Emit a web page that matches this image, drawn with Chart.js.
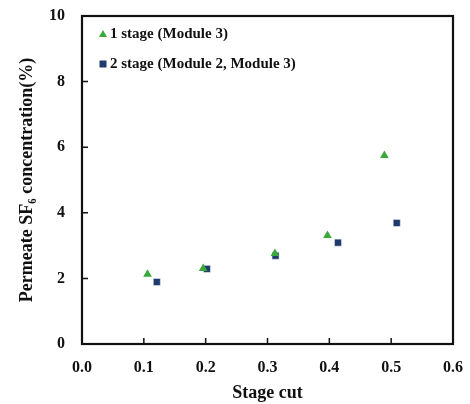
<!DOCTYPE html>
<html lang="en">
  <head>
    <meta charset="UTF-8" />
    <title>Permeate SF6 concentration vs stage cut</title>
    <script src="https://cdn.jsdelivr.net/npm/chart.js"></script>
    <style>
      body {
        margin: 0;
        padding: 0;
        background: #fff;
      }
      #wrap {
        width: 470px;
        height: 404px;
      }
    </style>
  </head>
  <body>
    <div id="wrap"><canvas id="chart" width="470" height="404"></canvas></div>

    <script>
      // data
      const stage1Cut = [0.106, 0.196, 0.312, 0.397, 0.489];
      const stage1Conc = [2.13, 2.3, 2.76, 3.31, 5.75];
      const stage2Cut = [0.121, 0.202, 0.313, 0.414, 0.509];
      const stage2Conc = [1.89, 2.29, 2.69, 3.09, 3.69];
      const seriesLabels = ["1 stage (Module 3)", "2 stage (Module 2, Module 3)"];
      const xTicks = [0, 0.1, 0.2, 0.3, 0.4, 0.5, 0.6];
      const yTicks = [0, 2, 4, 6, 8, 10];

      const serif = "'Liberation Serif', 'Times New Roman', serif";
      const toPoints = (xs, ys) => xs.map((x, i) => ({ x: x, y: ys[i] }));

      // box around the plot + inward tick marks
      const frame = {
        id: "frame",
        afterDraw(chart) {
          const ctx = chart.ctx;
          const a = chart.chartArea;
          const xs = chart.scales.x;
          const ys = chart.scales.y;
          ctx.save();
          ctx.strokeStyle = "#111";
          ctx.lineWidth = 2.2;
          ctx.strokeRect(a.left, a.top, a.right - a.left, a.bottom - a.top);
          ctx.beginPath();
          xTicks.forEach((v) => {
            const px = xs.getPixelForValue(v);
            ctx.moveTo(px, a.bottom);
            ctx.lineTo(px, a.bottom - 6);
          });
          yTicks.forEach((v) => {
            const py = ys.getPixelForValue(v);
            ctx.moveTo(a.left, py);
            ctx.lineTo(a.left + 6, py);
          });
          ctx.lineWidth = 1.5;
          ctx.stroke();
          ctx.restore();
        },
      };

      // legend drawn inside the plot, top left
      const innerLegend = {
        id: "innerLegend",
        afterDraw(chart) {
          const ctx = chart.ctx;
          const a = chart.chartArea;
          ctx.save();
          ctx.font = "bold 15px " + serif;
          ctx.textBaseline = "middle";
          chart.data.datasets.forEach((ds, i) => {
            const x = a.left + 21;
            const y = a.top + 18 + i * 30;
            ctx.fillStyle = ds.backgroundColor;
            ctx.beginPath();
            if (ds.pointStyle === "triangle") {
              ctx.moveTo(x, y - 4);
              ctx.lineTo(x + 4, y + 3);
              ctx.lineTo(x - 4, y + 3);
              ctx.closePath();
              ctx.fill();
            } else {
              ctx.fillRect(x - 3.5, y - 3.5, 7, 7);
            }
            ctx.fillStyle = "#111";
            ctx.fillText(ds.label, x + 7, y);
          });
          ctx.restore();
        },
      };

      new Chart(document.getElementById("chart"), {
        type: "scatter",
        data: {
          datasets: [
            {
              label: seriesLabels[0],
              data: toPoints(stage1Cut, stage1Conc),
              pointStyle: "triangle",
              backgroundColor: "#3ba83b",
              borderColor: "#3ba83b",
              pointRadius: 5,
              borderWidth: 0,
            },
            {
              label: seriesLabels[1],
              data: toPoints(stage2Cut, stage2Conc),
              pointStyle: "rect",
              backgroundColor: "#1f3b6e",
              borderColor: "#e8ecf4",
              pointRadius: 5,
              borderWidth: 0.6,
            },
          ],
        },
        options: {
          responsive: false,
          animation: false,
          layout: { padding: { top: 16, right: 17, left: 0, bottom: 0 } },
          plugins: {
            legend: { display: false },
            tooltip: { enabled: false },
          },
          scales: {
            x: {
              type: "linear",
              min: 0,
              max: 0.6,
              afterBuildTicks: (s) => {
                s.ticks = xTicks.map((v) => ({ value: v }));
              },
              afterFit: (s) => {
                s.height = 60;
                s.paddingLeft = 0;
                s.paddingRight = 0;
              },
              grid: { display: false },
              border: { display: false },
              ticks: {
                color: "#111",
                padding: 6,
                font: { family: serif, size: 16, weight: "bold" },
                callback: (v) => v.toFixed(1),
              },
              title: {
                display: true,
                text: "Stage cut",
                color: "#111",
                padding: { top: 2, bottom: 0 },
                font: { family: serif, size: 18, weight: "bold" },
              },
            },
            y: {
              min: 0,
              max: 10,
              afterBuildTicks: (s) => {
                s.ticks = yTicks.map((v) => ({ value: v }));
              },
              afterFit: (s) => {
                s.width = 82;
                s.paddingTop = 0;
                s.paddingBottom = 0;
              },
              grid: { display: false },
              border: { display: false },
              ticks: {
                color: "#111",
                padding: 9,
                font: { family: serif, size: 16, weight: "bold" },
              },
              title: {
                display: true,
                text: "Permeate SF\u2086 concentration(%)",
                color: "#111",
                padding: { top: 17, bottom: 0 },
                font: { family: serif, size: 18, weight: "bold" },
              },
            },
          },
        },
        plugins: [frame, innerLegend],
      });
    </script>
  </body>
</html>
